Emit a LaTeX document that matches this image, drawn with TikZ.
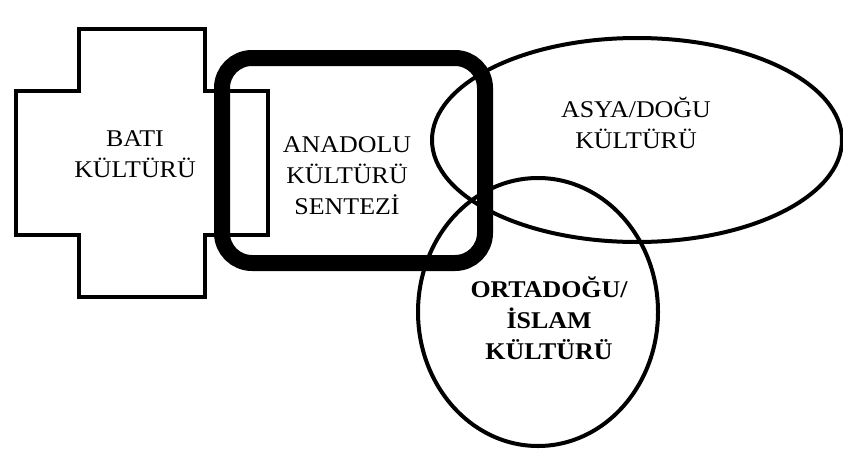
\documentclass[tikz,border=0pt]{standalone}
\usepackage{fontspec}
\setmainfont{Liberation Serif}[FakeStretch=1.08]
\usetikzlibrary{positioning,shapes.geometric}

\begin{document}
\begin{tikzpicture}[
  x=1pt, y=-1pt,
  txt/.style={align=center, font=\fontsize{24}{31}\selectfont, inner sep=0pt},
  synth/.style={draw, line width=16pt, rounded corners=30pt, minimum width=263pt, minimum height=205pt, inner sep=0pt},
  region/.style={draw, ellipse, line width=4pt, inner sep=0pt},
  crossline/.style={line width=4pt, line join=miter}
]
\useasboundingbox (0,0) rectangle (843,450);
% Batı: cross shape
\draw[crossline] (79,29) -- (205,29) -- (205,91) -- (268,91) -- (268,235) -- (205,235)
  -- (205,297) -- (79,297) -- (79,235) -- (16,235) -- (16,91) -- (79,91) -- cycle;
\node[synth] (anadolu) at (353.5,160.5) {};
\node[region, minimum width=410pt, minimum height=204pt] (asya) at (637,140) {};
\node[region, minimum width=240pt, minimum height=268pt] (islam) at (538,312) {};
% texts
\node[txt] (bati-t) at (135,154) {BATI\\KÜLTÜRÜ};
\node[txt] (anadolu-t) at (347,176) {ANADOLU\\KÜLTÜRÜ\\SENTEZİ};
\node[txt] (asya-t) at (636,123) {ASYA/DOĞU\\KÜLTÜRÜ};
\node[txt, font=\fontsize{24}{31}\selectfont\bfseries] (islam-t) at (549,318) {ORTADOĞU/\\İSLAM\\KÜLTÜRÜ};
\end{tikzpicture}
\end{document}
